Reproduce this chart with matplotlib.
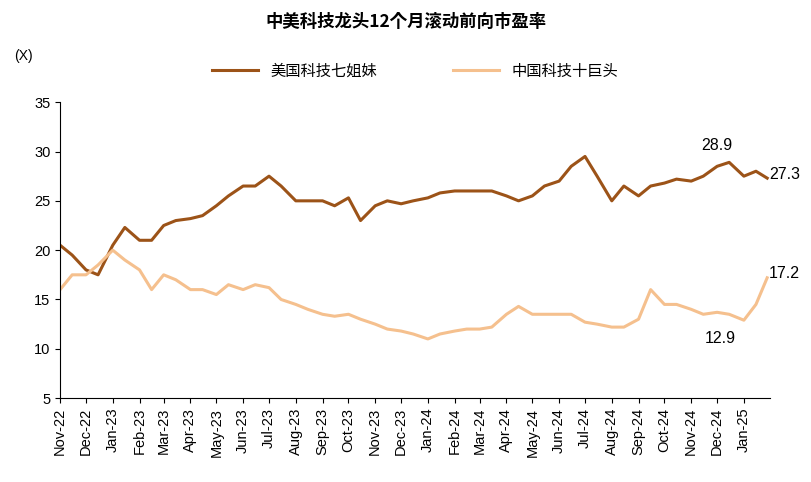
import pandas as pd
import matplotlib.pyplot as plt
import matplotlib.dates as mdates
from matplotlib import font_manager

names = {f.name for f in font_manager.fontManager.ttflist}
cjk = [n for n in ["Noto Sans CJK SC", "Noto Sans CJK JP", "Noto Sans CJK TC", "Noto Sans CJK KR"] if n in names]
cjk += [n for n in sorted(names) if "CJK" in n]
plt.rcParams["font.family"] = ["sans-serif"]
plt.rcParams["font.sans-serif"] = ["Liberation Sans", "DejaVu Sans"]
cjk_font = cjk[0] if cjk else "DejaVu Sans"

# semi-monthly readings, Nov-22 .. Jan-25
dates = pd.date_range("2022-11-01", "2025-01-15", freq="SMS").tolist() + [pd.Timestamp("2025-01-28")]

us_pe = [20.5, 19.5, 18.0, 17.5, 20.5, 22.3, 21.0, 21.0, 22.5, 23.0,
         23.2, 23.5, 24.5, 25.5, 26.5, 26.5, 27.5, 26.5, 25.0, 25.0,
         25.0, 24.5, 25.3, 23.0, 24.5, 25.0, 24.7, 25.0, 25.3, 25.8,
         26.0, 26.0, 26.0, 26.0, 25.5, 25.0, 25.5, 26.5, 27.0, 28.5,
         29.5, 27.5, 25.0, 26.5, 25.5, 26.5, 26.8, 27.2, 27.0, 27.5,
         28.5, 28.9, 27.5, 28.0, 27.3]
cn_pe = [16.0, 17.5, 17.5, 18.5, 20.0, 19.0, 18.0, 16.0, 17.5, 17.0,
         16.0, 16.0, 15.5, 16.5, 16.0, 16.5, 16.2, 15.0, 14.5, 14.0,
         13.5, 13.3, 13.5, 13.0, 12.5, 12.0, 11.8, 11.5, 11.0, 11.5,
         11.8, 12.0, 12.0, 12.2, 13.5, 14.3, 13.5, 13.5, 13.5, 13.5,
         12.7, 12.5, 12.2, 12.2, 13.0, 16.0, 14.5, 14.5, 14.0, 13.5,
         13.7, 13.5, 12.9, 14.5, 17.2]

us_color = "#9c5318"
cn_color = "#f5c08e"

fig = plt.figure(figsize=(8.12, 4.82), dpi=100)
ax = fig.add_axes([0.074, 0.174, 0.874, 0.614])

ax.plot(dates, us_pe, color=us_color, lw=2.2, label="美国科技七姐妹")
ax.plot(dates, cn_pe, color=cn_color, lw=2.2, label="中国科技十巨头")

ax.set_ylim(5, 35)
ax.set_yticks(range(5, 36, 5))
ax.set_xlim(pd.Timestamp("2022-11-01"), pd.Timestamp("2025-01-31"))
ax.xaxis.set_major_locator(mdates.MonthLocator())
ax.xaxis.set_major_formatter(mdates.DateFormatter("%b-%y"))
plt.setp(ax.get_xticklabels(), rotation=90)
ax.tick_params(labelsize=10.5)
for s in ["top", "right"]:
    ax.spines[s].set_visible(False)

ax.text(pd.Timestamp("2024-12-01"), 29.8, "28.9", fontsize=11.5, ha="center", va="bottom")
ax.text(pd.Timestamp("2025-01-30"), 27.7, "27.3", fontsize=11.5, ha="left", va="center")
ax.text(pd.Timestamp("2025-01-30"), 17.6, "17.2", fontsize=11.5, ha="left", va="center")
ax.text(pd.Timestamp("2024-12-05"), 11.8, "12.9", fontsize=11.5, ha="center", va="top")

fig.text(0.5, 0.955, "中美科技龙头12个月滚动前向市盈率", ha="center", va="center",
         fontsize=12.5, fontweight="bold", family=cjk_font)
fig.text(0.018, 0.875, "(X)", fontsize=10)
ax.legend(loc="lower center", bbox_to_anchor=(0.5, 1.03), ncol=2, frameon=False,
          prop={"family": cjk_font, "size": 11}, handlelength=3, columnspacing=5)

fig.savefig("out.png", dpi=100)
